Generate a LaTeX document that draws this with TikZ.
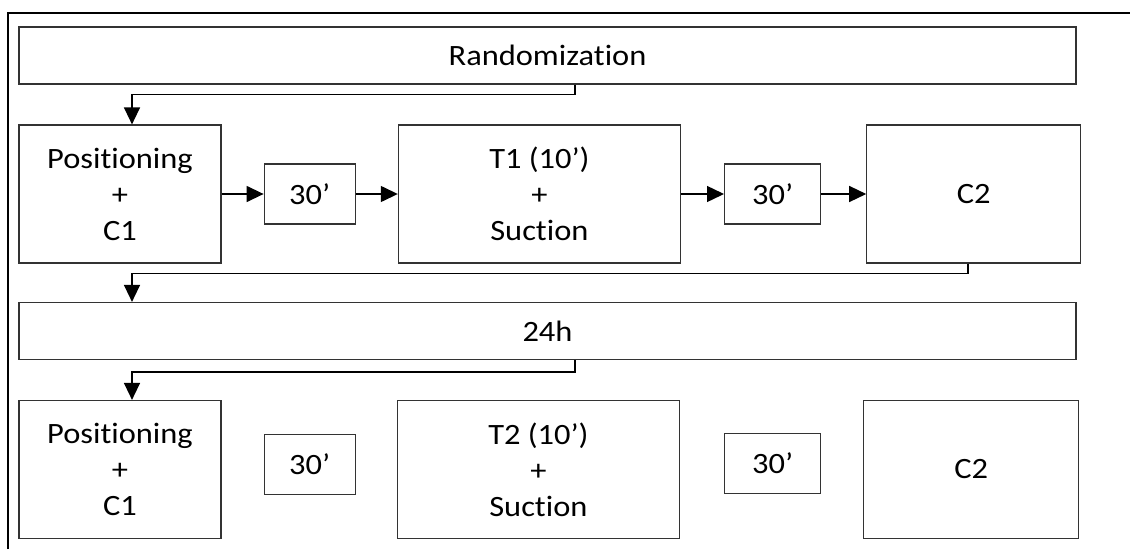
\documentclass[tikz,border=0pt]{standalone}
\usepackage{fontspec}
\setmainfont{Carlito}[FakeStretch=1.1, Ligatures=NoCommon]
\usetikzlibrary{positioning,arrows.meta}
\begin{document}
\begin{tikzpicture}[x=1pt, y=-1pt, node distance=42pt,
        box/.style = {draw=black!80, line width=1.2pt, align=center, inner sep=0pt, font=\fontsize{29.5}{36}\selectfont},
        bar/.style = {box, minimum width=1057pt, minimum height=57pt},
        big/.style = {box, minimum height=138pt},
        wait/.style = {box, minimum width=91pt, minimum height=60pt},
        flow/.style = {draw=black, line width=1.4pt, -{Triangle[length=17pt,width=16pt]}}]
            \useasboundingbox (0,0) rectangle (1130,549);
            \draw[line width=2pt] (8,549) |- (1131,13);
            % first day
            \node[bar] (rand) at (547.5,55.5) {Randomization};
            \node[big, minimum width=202pt] (pos1) at (120,194) {Positioning\\+\\C1};
            \node[wait] (wait1) [right=of pos1] {30’};
            \node[big, minimum width=282pt] (treat1) [right=of wait1] {T1 (10’)\\+\\Suction};
            \node[wait, minimum width=96pt] (wait2) [right=43pt of treat1] {30’};
            \node[big, minimum width=214pt] (ctrl1) [right=45pt of wait2] {C2};
            \draw[flow] (pos1) -- (wait1);
            \draw[flow] (wait1) -- (treat1);
            \draw[flow] (treat1) -- (wait2);
            \draw[flow] (wait2) -- (ctrl1);
            % second day
            \node[bar] (day) at (547.5,331) {24h};
            \node[big, minimum width=202pt] (pos2) at (120,469.5) {Positioning\\+\\C1};
            \node[wait] (wait3) [right=of pos2, yshift=5pt] {30’};
            \node[big, minimum width=282pt] (treat2) [right=41pt of pos2.east -| wait3.east] {T2 (10’)\\+\\Suction};
            \node[wait, minimum width=96pt] (wait4) [right=44pt of treat2, yshift=6pt] {30’};
            \node[big, minimum width=215pt] (ctrl2) [right=42pt of treat2.east -| wait4.east] {C2};
            % links between the stages
            \draw[flow] ([xshift=27.5pt]rand.south) -- ++(0,10) -| ([xshift=12pt]pos1.north);
            \draw[flow] ([xshift=-6pt]ctrl1.south) -- ++(0,10) -| ([xshift=12pt]day.north -| pos1.north);
            \draw[flow] ([xshift=27.5pt]day.south) -- ++(0,12) -| ([xshift=12pt]pos2.north);
        \end{tikzpicture}
\end{document}
